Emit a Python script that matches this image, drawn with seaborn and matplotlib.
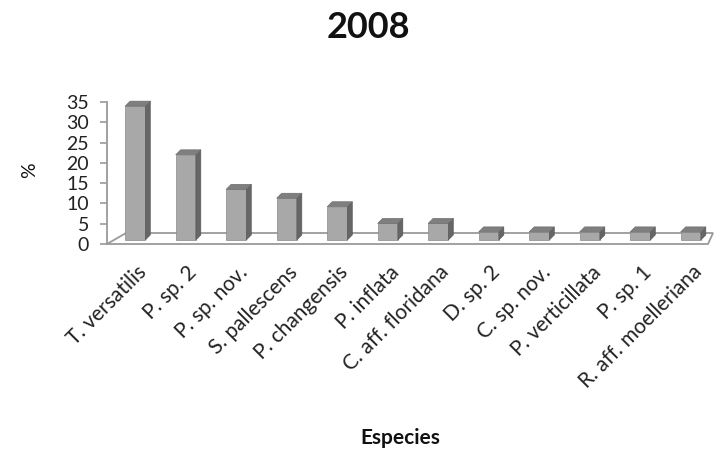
import matplotlib
matplotlib.use("Agg")
import matplotlib.pyplot as plt
import seaborn as sns
import pandas as pd
from matplotlib.transforms import ScaledTranslation
from matplotlib.patches import Polygon

# ---- data ----
species = ["T. versatilis", "P. sp. 2", "P. sp. nov.", "S. pallescens", "P. changensis",
           "P. inflata", "C. aff. floridana", "D. sp. 2", "C. sp. nov.", "P. verticillata",
           "P. sp. 1", "R. aff. moelleriana"]
percent = [33, 21, 12.5, 10.3, 8.2, 4.1, 4.1, 2, 2, 2, 2, 2]
yticks = [0, 5, 10, 15, 20, 25, 30, 35]
title = "2008"
xlabel = "Especies"
ylabel = "%"

df = pd.DataFrame({"Especies": species, "pct": percent})

sns.set_theme(style="white")
FONT = ["Lato", "DejaVu Sans"]
plt.rcParams["font.family"] = FONT

W, H, DPI = 715, 458, 100
fig = plt.figure(figsize=(W / DPI, H / DPI), dpi=DPI)
L, R, B, T = 107, 713, 244, 102
ax = fig.add_axes([L / W, (H - B) / H, (R - L) / W, (B - T) / H])

front_c = "#a8a8a8"
side_c = "#666666"
top_c = "#7f7f7f"
line_c = "#9a9a9a"

sns.barplot(data=df, x="Especies", y="pct", order=species, color=front_c,
            saturation=1, width=0.4, ax=ax, zorder=3, edgecolor="#8a8a8a", linewidth=0.5)

ax.set_xlim(-0.5, len(species) - 0.5)
ax.set_ylim(0, 35)
ax.set_yticks(yticks)

ppx = (R - L) / len(species)
ppy = (B - T) / 35.0


def shifted(dx, dy):
    return ax.transData + ScaledTranslation(dx / DPI, dy / DPI, fig.dpi_scale_trans)


# floor (3-D base)
floor = Polygon([(-0.5, 0), (len(species) - 0.5 - 5 / ppx, 0),
                 (len(species) - 0.5, 11 / ppy), (-0.5 + 19 / ppx, 11 / ppy)],
                closed=True, facecolor="white", edgecolor=line_c, lw=1.3,
                zorder=1, clip_on=False)
ax.add_patch(floor)

# 3-D faces on bars
ddx, ddy = 5 / ppx, 5 / ppy
bar_tr = shifted(3, 4)
for p in list(ax.patches):
    if p is floor:
        continue
    x0, w, h = p.get_x(), p.get_width(), p.get_height()
    p.set_transform(bar_tr)
    p.set_clip_on(False)
    side = Polygon([(x0 + w, 0), (x0 + w + ddx, ddy), (x0 + w + ddx, h + ddy), (x0 + w, h)],
                   closed=True, facecolor=side_c, edgecolor="#555555", lw=0.4,
                   transform=bar_tr, zorder=3, clip_on=False)
    top = Polygon([(x0, h), (x0 + w, h), (x0 + w + ddx, h + ddy), (x0 + ddx, h + ddy)],
                  closed=True, facecolor=top_c, edgecolor="#666666", lw=0.4,
                  transform=bar_tr, zorder=3, clip_on=False)
    ax.add_patch(side)
    ax.add_patch(top)

# spines / ticks
for s in ["top", "right", "bottom"]:
    ax.spines[s].set_visible(False)
ax.spines["left"].set_color(line_c)
ax.spines["left"].set_linewidth(1.3)
ax.tick_params(axis="y", length=5, width=1.2, color=line_c, labelsize=14,
               pad=8, left=True, labelcolor="#222222")
ax.tick_params(axis="x", length=0, labelsize=15, labelcolor="#222222", pad=18)
for lbl in ax.get_xticklabels():
    lbl.set_rotation(45)
    lbl.set_ha("right")
    lbl.set_va("center")
    lbl.set_rotation_mode("anchor")
    lbl.set_transform(lbl.get_transform() + ScaledTranslation(11 / DPI, 0, fig.dpi_scale_trans))

ax.set_xlabel("")
ax.set_ylabel("")
fig.text(400 / W, 1 - 438 / H, xlabel, ha="center", va="center", fontsize=15,
         fontweight="bold", color="#111111")
fig.text(30 / W, 1 - 170 / H, ylabel, ha="center", va="center", fontsize=14,
         rotation=90, color="#111111")
fig.text(368 / W, 1 - 28 / H, title, ha="center", va="center", fontsize=26,
         fontweight="bold", color="#111111")

fig.savefig("out.png", dpi=DPI, facecolor="white")
